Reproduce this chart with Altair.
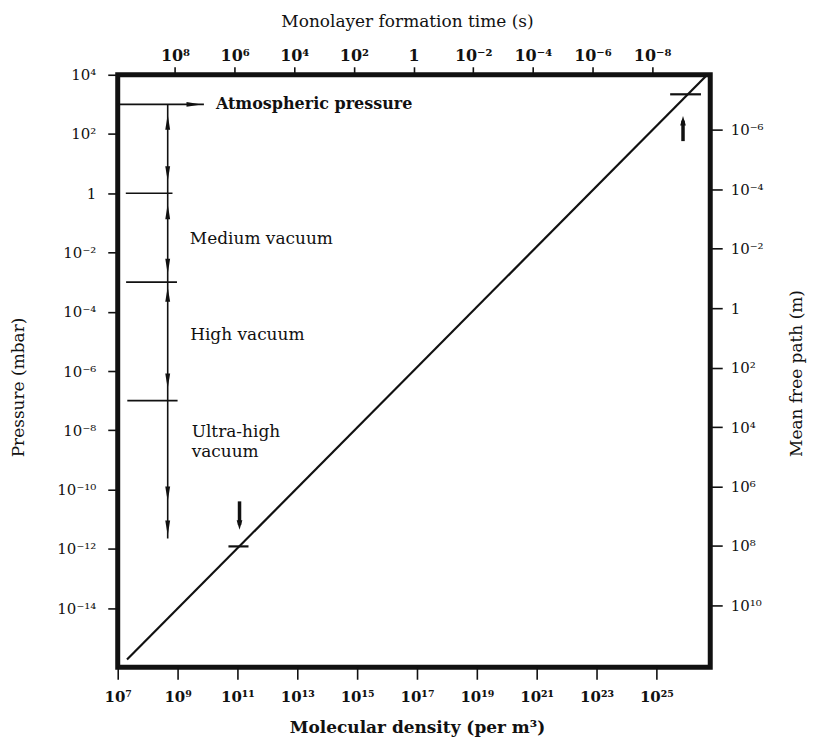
import altair as alt
import pandas as pd
import numpy as np

# ---------------- axis ticks and labels ----------------
pressure_ticks = [1e4, 1e2, 1, 1e-2, 1e-4, 1e-6, 1e-8, 1e-10, 1e-12, 1e-14]
pressure_labels = ["10⁴", "10²", "1", "10⁻²", "10⁻⁴", "10⁻⁶", "10⁻⁸", "10⁻¹⁰", "10⁻¹²", "10⁻¹⁴"]
density_ticks = [1e7, 1e9, 1e11, 1e13, 1e15, 1e17, 1e19, 1e21, 1e23, 1e25]
density_labels = ["10⁷", "10⁹", "10¹¹", "10¹³", "10¹⁵", "10¹⁷", "10¹⁹", "10²¹", "10²³", "10²⁵"]
time_ticks = [1e8, 1e6, 1e4, 1e2, 1, 1e-2, 1e-4, 1e-6, 1e-8]
time_labels = ["10⁸", "10⁶", "10⁴", "10²", "1", "10⁻²", "10⁻⁴", "10⁻⁶", "10⁻⁸"]
mfp_ticks = [1e-6, 1e-4, 1e-2, 1, 1e2, 1e4, 1e6, 1e8, 1e10]
mfp_labels = ["10⁻⁶", "10⁻⁴", "10⁻²", "1", "10²", "10⁴", "10⁶", "10⁸", "10¹⁰"]

density_domain = [10**7.0, 10**26.8]
pressure_domain = [1e-16, 1e4]
time_domain = [10**-9.95, 10**9.92]
mfp_domain = [10**-7.85, 10**12.08]

# ---------------- chart content ----------------
line_density = [10**7.31, 10**26.7]
line_pressure = [10**-15.74, 1e4]

boundary_pressure = [1e3, 1, 1e-3, 1e-7]
boundary_start = [10**7.0, 10**7.27, 10**7.28, 10**7.32]
boundary_end = [10**9.88, 10**8.83, 10**8.98, 10**9.0]

range_density = 10**8.67
range_top = 1e3
range_bottom = 10**-11.65

arrow_pressure = [10**2.4, 10**0.66, 10**-0.62, 10**-2.47, 10**-3.41, 10**-6.34, 10**-10.15, 10**-11.3]
arrow_dir = ["up", "down", "up", "down", "up", "down", "down", "down"]
atm_arrow_density = 10**9.55

marker_pressure = [10**-11.92, 10**3.34]
marker_start = [10**10.7, 10**25.46]
marker_end = [10**11.37, 10**26.49]
pointer_density = [10**11.07, 10**25.89]
pointer_tail = [10**-10.4, 10**1.76]
pointer_tip = [10**-11.2, 10**2.45]
pointer_dir = ["down", "up"]

region_text = ["Medium vacuum", "High vacuum", "Ultra-high", "vacuum"]
region_density = [10**9.41, 10**9.42, 10**9.47, 10**9.47]
region_pressure = [10**-1.53, 10**-4.79, 10**-8.05, 10**-8.72]
atm_text = "Atmospheric pressure"
atm_text_density = 10**10.28

FONT = "DejaVu Serif"
UP = "M-0.32,1L0.32,1L0,-1Z"
DOWN = "M-0.32,-1L0.32,-1L0,1Z"
RIGHT = "M-1,-0.3L-1,0.3L1,0Z"
FAT_UP = "M-0.6,1L0.6,1L0,-1Z"
FAT_DOWN = "M-0.6,-1L0.6,-1L0,1Z"


def label_expr(ticks, labels):
    expr = "''"
    for v, l in reversed(list(zip(ticks, labels))):
        expr = f"abs(log(datum.value)/LN10 - ({np.log10(v):.3f})) < 0.01 ? '{l}' : {expr}"
    return expr


xscale = alt.Scale(type="log", domain=density_domain, nice=False)
yscale = alt.Scale(type="log", domain=pressure_domain, nice=False)
xaxis = alt.Axis(orient="bottom", values=density_ticks, labelExpr=label_expr(density_ticks, density_labels),
                 title="Molecular density (per m³)", titleFontWeight="bold", titleFontSize=17,
                 titleX=300, titleY=60, titleAlign="center", titleBaseline="middle",
                 tickSize=12, labelPadding=10, labelFontWeight="bold")
yaxis = alt.Axis(orient="left", values=pressure_ticks, labelExpr=label_expr(pressure_ticks, pressure_labels),
                 title="Pressure (mbar)", titleX=-99, titleY=313, titleAngle=270,
                 titleAlign="center", titleBaseline="middle", tickSize=10, labelPadding=12)


def X(f="d"):
    return alt.X(f"{f}:Q", scale=xscale, axis=xaxis)


def Y(f="p"):
    return alt.Y(f"{f}:Q", scale=yscale, axis=yaxis)


black = "#111111"

diag = alt.Chart(pd.DataFrame({"d": line_density, "p": line_pressure})).mark_line(
    color=black, strokeWidth=2.2).encode(x=X(), y=Y())

bounds = alt.Chart(pd.DataFrame({"d": boundary_start, "d2": boundary_end, "p": boundary_pressure})).mark_rule(
    color=black, strokeWidth=1.6).encode(x=X(), x2="d2:Q", y=Y())

vline = alt.Chart(pd.DataFrame({"d": [range_density], "p": [range_top], "p2": [range_bottom]})).mark_rule(
    color=black, strokeWidth=1.6).encode(x=X(), y=Y(), y2="p2:Q")

heads = alt.Chart(pd.DataFrame({
    "d": [range_density] * len(arrow_pressure) + [atm_arrow_density],
    "p": arrow_pressure + [1e3],
    "shape": [UP if a == "up" else DOWN for a in arrow_dir] + [RIGHT],
})).mark_point(filled=True, color=black, opacity=1, size=230, strokeWidth=0).encode(
    x=X(), y=Y(), shape=alt.Shape("shape:N", scale=None))

markers = alt.Chart(pd.DataFrame({"d": marker_start, "d2": marker_end, "p": marker_pressure})).mark_rule(
    color=black, strokeWidth=2.2).encode(x=X(), x2="d2:Q", y=Y())

pointers = alt.Chart(pd.DataFrame({"d": pointer_density, "p": pointer_tail, "p2": pointer_tip})).mark_rule(
    color=black, strokeWidth=3.5).encode(x=X(), y=Y(), y2="p2:Q")

pointer_heads = alt.Chart(pd.DataFrame({
    "d": pointer_density, "p": pointer_tip,
    "shape": [FAT_UP if a == "up" else FAT_DOWN for a in pointer_dir],
})).mark_point(filled=True, color=black, opacity=1, size=90, strokeWidth=0).encode(
    x=X(), y=Y(), shape=alt.Shape("shape:N", scale=None))

region_labels = alt.Chart(pd.DataFrame({"d": region_density, "p": region_pressure, "t": region_text})).mark_text(
    align="left", baseline="middle", font=FONT, fontSize=17, color=black).encode(x=X(), y=Y(), text="t:N")

atm_label = alt.Chart(pd.DataFrame({"d": [atm_text_density], "p": [1e3], "t": [atm_text]})).mark_text(
    align="left", baseline="middle", font=FONT, fontSize=16, fontWeight="bold", color=black).encode(
    x=X(), y=Y(), text="t:N")

main = alt.layer(diag, bounds, vline, heads, markers, pointers, pointer_heads, region_labels, atm_label)

secondary = alt.Chart(pd.DataFrame({"t": [1.0], "m": [1.0]})).mark_point(opacity=0).encode(
    x=alt.X("t:Q", scale=alt.Scale(type="log", domain=time_domain, nice=False, reverse=True),
            axis=alt.Axis(orient="top", values=time_ticks, labelExpr=label_expr(time_ticks, time_labels),
                          title="Monolayer formation time (s)", titleX=290, titleY=-53,
                          titleAlign="center", titleBaseline="middle",
                          tickSize=8, labelPadding=3, labelFontWeight="bold", labelFontSize=16)),
    y=alt.Y("m:Q", scale=alt.Scale(type="log", domain=mfp_domain, nice=False, reverse=True),
            axis=alt.Axis(orient="right", values=mfp_ticks, labelExpr=label_expr(mfp_ticks, mfp_labels),
                          title="Mean free path (m)", titleX=86, titleY=299, titleAngle=270,
                          titleAlign="center", titleBaseline="middle", tickSize=12, labelPadding=8)),
)

chart = alt.layer(main, secondary).resolve_scale(x="independent", y="independent").properties(
    width=594, height=594,
    autosize=alt.AutoSizeParams(type="none"),
    padding={"left": 110, "top": 66, "right": 99, "bottom": 78},
    background="white",
).configure_view(stroke=black, strokeWidth=5).configure_axis(
    grid=False, domain=False, tickColor=black, tickWidth=1.6, labelColor=black, titleColor=black,
    labelFont=FONT, titleFont=FONT, labelFontSize=15, titleFontSize=17, titleFontWeight="normal",
    labelFlush=False, labelOverlap=False,
)

chart.save("out.html", embed_options={"renderer": "svg", "actions": False})
